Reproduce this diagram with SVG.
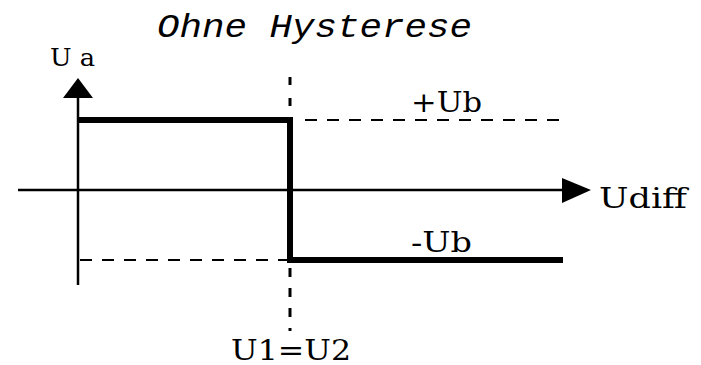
<svg xmlns="http://www.w3.org/2000/svg" width="701" height="365" viewBox="0 0 701 365">
<style>
.t{font-family:"DejaVu Serif","Liberation Serif",serif;fill:#000}
.ti{font-family:"Liberation Mono","Courier New",monospace;font-style:italic;fill:#000}
.ax{stroke:#000;stroke-width:2.5;fill:none}
.thick{stroke:#000;stroke-width:6;fill:none}
.dash{stroke:#000;stroke-width:1.8;fill:none;stroke-dasharray:12 10}
.dot{stroke:#000;stroke-width:3;fill:none}
</style>
<rect width="701" height="365" fill="#fff"/>
<g id="title"><text class="ti" x="157" y="37" font-size="33" textLength="315" lengthAdjust="spacingAndGlyphs">Ohne Hysterese</text></g>
<g id="connectors">
<line class="ax" x1="78" y1="94" x2="78" y2="285"/>
<polygon points="78,78 93,98 63,98" fill="#000"/>
<line class="ax" x1="18" y1="190" x2="565" y2="190"/>
<polygon points="591,190 562,178 562,203" fill="#000"/>
<line class="dash" x1="305" y1="120" x2="564" y2="120"/>
<line class="dash" x1="80" y1="260" x2="287" y2="260"/>
<line class="dot" x1="290" y1="77" x2="290" y2="117" stroke-dasharray="8 13"/>
<line class="dot" x1="290" y1="268" x2="290" y2="331" stroke-dasharray="9 11"/>
<polyline class="thick" points="78,120 290,120 290,260 563,260"/>
</g>
<g id="label-ua"><text class="t" x="50" y="66" font-size="24" textLength="45" lengthAdjust="spacingAndGlyphs">U a</text></g>
<g id="label-plus-ub"><text class="t" x="411" y="112" font-size="27" textLength="71" lengthAdjust="spacingAndGlyphs">+Ub</text></g>
<g id="label-minus-ub"><text class="t" x="411" y="252" font-size="27" textLength="61" lengthAdjust="spacingAndGlyphs">-Ub</text></g>
<g id="label-udiff"><text class="t" x="599" y="208" font-size="28" textLength="88" lengthAdjust="spacingAndGlyphs">Udiff</text></g>
<g id="label-u1u2"><text class="t" x="231" y="360" font-size="27" textLength="120" lengthAdjust="spacingAndGlyphs">U1=U2</text></g>
</svg>
